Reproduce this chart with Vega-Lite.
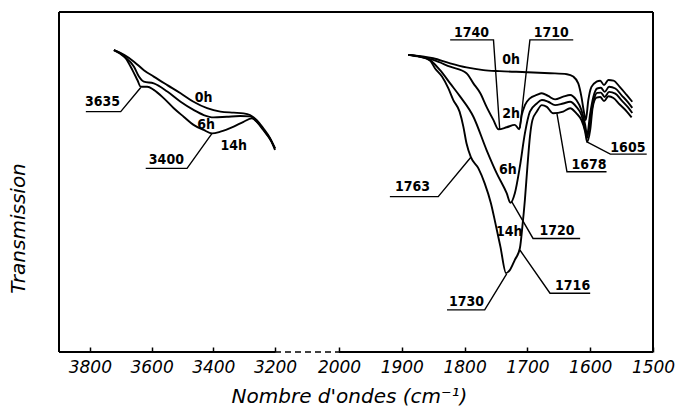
{
  "$schema": "https://vega.github.io/schema/vega-lite/v6.json",
  "width": 594,
  "height": 340,
  "autosize": {"type": "none"},
  "padding": {"left": 59, "top": 12, "right": 28, "bottom": 60},
  "background": "white",
  "config": {"view": {"stroke": null}},
  "datasets": {
    "curves": [
      {"curve":"L0","wn":3722,"T":88.8},{"curve":"L0","wn":3689,"T":87.4},{"curve":"L0","wn":3657,"T":85.4},{"curve":"L0","wn":3625,"T":82.9},{"curve":"L0","wn":3593,"T":81.0},{"curve":"L0","wn":3549,"T":78.5},{"curve":"L0","wn":3506,"T":76.1},{"curve":"L0","wn":3464,"T":73.6},{"curve":"L0","wn":3420,"T":71.7},{"curve":"L0","wn":3377,"T":70.7},{"curve":"L0","wn":3334,"T":70.4},{"curve":"L0","wn":3302,"T":70.2},{"curve":"L0","wn":3281,"T":69.7},{"curve":"L0","wn":3259,"T":68.2},{"curve":"L0","wn":3238,"T":65.8},{"curve":"L0","wn":3216,"T":62.9},{"curve":"L0","wn":3200,"T":59.9},
      {"curve":"L6","wn":3722,"T":88.8},{"curve":"L6","wn":3689,"T":86.9},{"curve":"L6","wn":3657,"T":83.9},{"curve":"L6","wn":3641,"T":81.0},{"curve":"L6","wn":3625,"T":79.5},{"curve":"L6","wn":3593,"T":79.0},{"curve":"L6","wn":3549,"T":76.6},{"curve":"L6","wn":3506,"T":73.6},{"curve":"L6","wn":3464,"T":71.2},{"curve":"L6","wn":3431,"T":69.7},{"curve":"L6","wn":3399,"T":69.0},{"curve":"L6","wn":3356,"T":69.2},{"curve":"L6","wn":3313,"T":69.4},{"curve":"L6","wn":3281,"T":69.3},{"curve":"L6","wn":3259,"T":67.7},{"curve":"L6","wn":3238,"T":65.3},{"curve":"L6","wn":3216,"T":62.6},{"curve":"L6","wn":3200,"T":59.9},
      {"curve":"L14","wn":3722,"T":88.8},{"curve":"L14","wn":3684,"T":86.4},{"curve":"L14","wn":3662,"T":82.9},{"curve":"L14","wn":3646,"T":80.0},{"curve":"L14","wn":3635,"T":78.0},{"curve":"L14","wn":3614,"T":78.0},{"curve":"L14","wn":3593,"T":77.1},{"curve":"L14","wn":3560,"T":74.6},{"curve":"L14","wn":3528,"T":71.7},{"curve":"L14","wn":3496,"T":69.2},{"curve":"L14","wn":3464,"T":66.8},{"curve":"L14","wn":3431,"T":65.3},{"curve":"L14","wn":3404,"T":64.3},{"curve":"L14","wn":3377,"T":64.8},{"curve":"L14","wn":3334,"T":66.3},{"curve":"L14","wn":3302,"T":67.7},{"curve":"L14","wn":3275,"T":68.7},{"curve":"L14","wn":3254,"T":67.3},{"curve":"L14","wn":3232,"T":64.8},{"curve":"L14","wn":3211,"T":61.9},{"curve":"L14","wn":3200,"T":59.4},
      {"curve":"R0","wn":1890,"T":87.4},{"curve":"R0","wn":1850,"T":86.4},{"curve":"R0","wn":1823,"T":84.9},{"curve":"R0","wn":1797,"T":83.7},{"curve":"R0","wn":1770,"T":82.9},{"curve":"R0","wn":1744,"T":82.6},{"curve":"R0","wn":1701,"T":82.3},{"curve":"R0","wn":1664,"T":82.0},{"curve":"R0","wn":1637,"T":81.7},{"curve":"R0","wn":1627,"T":81.0},{"curve":"R0","wn":1619,"T":79.0},{"curve":"R0","wn":1614,"T":75.1},{"curve":"R0","wn":1610,"T":70.6},{"curve":"R0","wn":1607,"T":68.2},{"curve":"R0","wn":1603,"T":74.1},{"curve":"R0","wn":1598,"T":78.0},{"curve":"R0","wn":1590,"T":79.5},{"curve":"R0","wn":1584,"T":79.8},{"curve":"R0","wn":1578,"T":78.5},{"curve":"R0","wn":1571,"T":80.0},{"curve":"R0","wn":1563,"T":79.8},{"curve":"R0","wn":1553,"T":78.0},{"curve":"R0","wn":1542,"T":75.6},{"curve":"R0","wn":1533,"T":73.6},
      {"curve":"R2","wn":1890,"T":87.4},{"curve":"R2","wn":1871,"T":86.8},{"curve":"R2","wn":1850,"T":85.9},{"curve":"R2","wn":1823,"T":83.9},{"curve":"R2","wn":1797,"T":82.0},{"curve":"R2","wn":1786,"T":79.0},{"curve":"R2","wn":1775,"T":76.1},{"curve":"R2","wn":1765,"T":72.1},{"curve":"R2","wn":1754,"T":68.2},{"curve":"R2","wn":1746,"T":65.5},{"curve":"R2","wn":1733,"T":66.1},{"curve":"R2","wn":1720,"T":66.8},{"curve":"R2","wn":1713,"T":65.5},{"curve":"R2","wn":1709,"T":69.7},{"curve":"R2","wn":1704,"T":72.6},{"curve":"R2","wn":1696,"T":74.6},{"curve":"R2","wn":1685,"T":75.6},{"curve":"R2","wn":1677,"T":76.1},{"curve":"R2","wn":1667,"T":75.3},{"curve":"R2","wn":1656,"T":74.3},{"curve":"R2","wn":1643,"T":75.1},{"curve":"R2","wn":1632,"T":75.6},{"curve":"R2","wn":1622,"T":74.1},{"curve":"R2","wn":1614,"T":71.2},{"curve":"R2","wn":1608,"T":66.8},{"curve":"R2","wn":1605,"T":63.8},{"curve":"R2","wn":1600,"T":70.2},{"curve":"R2","wn":1595,"T":75.0},{"curve":"R2","wn":1589,"T":77.5},{"curve":"R2","wn":1583,"T":77.7},{"curve":"R2","wn":1577,"T":76.5},{"curve":"R2","wn":1570,"T":78.0},{"curve":"R2","wn":1560,"T":77.5},{"curve":"R2","wn":1550,"T":75.5},{"curve":"R2","wn":1540,"T":73.5},{"curve":"R2","wn":1533,"T":71.8},
      {"curve":"R6","wn":1890,"T":87.4},{"curve":"R6","wn":1860,"T":86.4},{"curve":"R6","wn":1839,"T":82.9},{"curve":"R6","wn":1823,"T":79.0},{"curve":"R6","wn":1807,"T":75.1},{"curve":"R6","wn":1786,"T":69.2},{"curve":"R6","wn":1765,"T":59.4},{"curve":"R6","wn":1749,"T":52.6},{"curve":"R6","wn":1733,"T":46.7},{"curve":"R6","wn":1727,"T":43.9},{"curve":"R6","wn":1720,"T":46.7},{"curve":"R6","wn":1712,"T":54.5},{"curve":"R6","wn":1704,"T":64.3},{"curve":"R6","wn":1696,"T":70.7},{"curve":"R6","wn":1685,"T":73.1},{"curve":"R6","wn":1677,"T":74.1},{"curve":"R6","wn":1667,"T":73.6},{"curve":"R6","wn":1656,"T":72.6},{"curve":"R6","wn":1643,"T":73.1},{"curve":"R6","wn":1632,"T":73.6},{"curve":"R6","wn":1622,"T":72.1},{"curve":"R6","wn":1614,"T":69.7},{"curve":"R6","wn":1608,"T":65.3},{"curve":"R6","wn":1605,"T":62.9},{"curve":"R6","wn":1600,"T":68.2},{"curve":"R6","wn":1595,"T":73.5},{"curve":"R6","wn":1589,"T":76.2},{"curve":"R6","wn":1583,"T":76.3},{"curve":"R6","wn":1577,"T":75.0},{"curve":"R6","wn":1570,"T":76.5},{"curve":"R6","wn":1560,"T":76.0},{"curve":"R6","wn":1550,"T":74.0},{"curve":"R6","wn":1540,"T":72.0},{"curve":"R6","wn":1533,"T":70.3},
      {"curve":"R14","wn":1890,"T":87.4},{"curve":"R14","wn":1871,"T":86.9},{"curve":"R14","wn":1855,"T":85.7},{"curve":"R14","wn":1847,"T":83.4},{"curve":"R14","wn":1836,"T":81.0},{"curve":"R14","wn":1826,"T":77.6},{"curve":"R14","wn":1818,"T":74.1},{"curve":"R14","wn":1808,"T":70.7},{"curve":"R14","wn":1802,"T":66.3},{"curve":"R14","wn":1797,"T":61.4},{"curve":"R14","wn":1790,"T":57.3},{"curve":"R14","wn":1778,"T":54.0},{"curve":"R14","wn":1768,"T":49.6},{"curve":"R14","wn":1758,"T":43.7},{"curve":"R14","wn":1751,"T":37.9},{"curve":"R14","wn":1743,"T":31.0},{"curve":"R14","wn":1734,"T":23.2},{"curve":"R14","wn":1728,"T":24.1},{"curve":"R14","wn":1720,"T":27.1},{"curve":"R14","wn":1712,"T":30.5},{"curve":"R14","wn":1708,"T":36.9},{"curve":"R14","wn":1704,"T":44.7},{"curve":"R14","wn":1700,"T":54.5},{"curve":"R14","wn":1696,"T":63.3},{"curve":"R14","wn":1692,"T":68.2},{"curve":"R14","wn":1685,"T":70.7},{"curve":"R14","wn":1677,"T":72.6},{"curve":"R14","wn":1669,"T":72.1},{"curve":"R14","wn":1659,"T":70.2},{"curve":"R14","wn":1643,"T":70.7},{"curve":"R14","wn":1632,"T":71.7},{"curve":"R14","wn":1622,"T":70.2},{"curve":"R14","wn":1614,"T":68.2},{"curve":"R14","wn":1608,"T":64.8},{"curve":"R14","wn":1605,"T":61.8},{"curve":"R14","wn":1600,"T":65.3},{"curve":"R14","wn":1596,"T":72.0},{"curve":"R14","wn":1590,"T":74.8},{"curve":"R14","wn":1584,"T":75.0},{"curve":"R14","wn":1578,"T":73.8},{"curve":"R14","wn":1571,"T":75.2},{"curve":"R14","wn":1563,"T":74.7},{"curve":"R14","wn":1553,"T":72.8},{"curve":"R14","wn":1542,"T":70.8},{"curve":"R14","wn":1534,"T":69.0}
    ],
    "leaders": [
      {"id":"3635","k":1,"wn":3813,"T":70.7},{"id":"3635","k":2,"wn":3700,"T":70.7},{"id":"3635","k":3,"wn":3635,"T":77.8},
      {"id":"3400","k":1,"wn":3619,"T":54.0},{"id":"3400","k":2,"wn":3485,"T":54.0},{"id":"3400","k":3,"wn":3404,"T":64.3},
      {"id":"1740","k":1,"wn":1823,"T":91.8},{"id":"1740","k":2,"wn":1754,"T":91.8},{"id":"1740","k":3,"wn":1744,"T":65.3},
      {"id":"1710","k":1,"wn":1627,"T":91.8},{"id":"1710","k":2,"wn":1696,"T":91.8},{"id":"1710","k":3,"wn":1712,"T":65.8},
      {"id":"1605","k":1,"wn":1510,"T":58.2},{"id":"1605","k":2,"wn":1568,"T":58.2},{"id":"1605","k":3,"wn":1606,"T":61.9},
      {"id":"1678","k":1,"wn":1574,"T":53.0},{"id":"1678","k":2,"wn":1637,"T":53.0},{"id":"1678","k":3,"wn":1653,"T":70.2},
      {"id":"1763","k":1,"wn":1919,"T":45.7},{"id":"1763","k":2,"wn":1842,"T":45.7},{"id":"1763","k":3,"wn":1790,"T":57.3},
      {"id":"1720","k":1,"wn":1616,"T":33.4},{"id":"1720","k":2,"wn":1691,"T":33.4},{"id":"1720","k":3,"wn":1725,"T":44.2},
      {"id":"1716","k":1,"wn":1600,"T":17.3},{"id":"1716","k":2,"wn":1664,"T":17.3},{"id":"1716","k":3,"wn":1712,"T":30.0},
      {"id":"1730","k":1,"wn":1828,"T":12.4},{"id":"1730","k":2,"wn":1768,"T":12.4},{"id":"1730","k":3,"wn":1733,"T":23.0}
    ],
    "labels": [
      {"txt":"3635","wn":3759,"T":73.6},
      {"txt":"3400","wn":3552,"T":56.5},
      {"txt":"0h","wn":3431,"T":74.7},
      {"txt":"14h","wn":3334,"T":60.6},
      {"txt":"6h","wn":3423,"T":66.8},
      {"txt":"1740","wn":1789,"T":93.8},
      {"txt":"1710","wn":1662,"T":93.8},
      {"txt":"0h","wn":1726,"T":85.9},
      {"txt":"2h","wn":1726,"T":70.0},
      {"txt":"6h","wn":1731,"T":53.5},
      {"txt":"1605","wn":1540,"T":60.0},
      {"txt":"1678","wn":1602,"T":54.9},
      {"txt":"1763","wn":1883,"T":48.4},
      {"txt":"1720","wn":1653,"T":35.6},
      {"txt":"14h","wn":1729,"T":35.4},
      {"txt":"1716","wn":1628,"T":19.4},
      {"txt":"1730","wn":1797,"T":14.6}
    ],
    "frame": [
      {"wn":3900,"wn2":1500,"T":100,"T2":100},
      {"wn":3900,"wn2":3900,"T":0,"T2":100},
      {"wn":1500,"wn2":1500,"T":0,"T2":100},
      {"wn":3900,"wn2":3200,"T":0,"T2":0},
      {"wn":2000,"wn2":1500,"T":0,"T2":0}
    ],
    "gap": [
      {"wn":3200,"wn2":2000,"T":0,"T2":0}
    ]
  },
  "encoding": {
    "x": {
      "field": "wn", "type": "quantitative",
      "scale": {"domain": [3900, 3200, 2000, 1500], "range": [0, 216, 280, 594], "nice": false, "zero": false},
      "axis": {
        "values": [3800, 3600, 3400, 3200, 2000, 1900, 1800, 1700, 1600, 1500],
        "format": "d",
        "title": "Nombre d'ondes (cm⁻¹)",
        "domain": false, "grid": false,
        "ticks": true, "tickSize": -5, "tickColor": "black", "tickWidth": 1.5,
        "labelPadding": 12, "labelFont": "DejaVu Sans", "labelFontStyle": "italic", "labelFontSize": 17,
        "labelColor": "black", "labelFlush": false, "labelOverlap": false, "labelBound": false, "labelDx": 2,
        "titleFont": "DejaVu Sans", "titleFontStyle": "italic", "titleFontWeight": "normal", "titleFontSize": 20,
        "titleColor": "black", "titleX": 290, "titleY": 50, "titleBaseline": "alphabetic", "titleAlign": "center"
      }
    },
    "y": {
      "field": "T", "type": "quantitative",
      "scale": {"domain": [0, 100], "nice": false, "zero": false},
      "axis": {
        "title": "Transmission", "domain": false, "ticks": false, "labels": false, "grid": false,
        "titleFont": "DejaVu Sans", "titleFontStyle": "italic", "titleFontWeight": "normal", "titleFontSize": 20,
        "titleColor": "black", "titleX": -41, "titleY": 216, "titleAngle": -90, "titleBaseline": "middle", "titleAlign": "center"
      }
    }
  },
  "layer": [
    {
      "data": {"name": "frame"},
      "mark": {"type": "rule", "color": "black", "strokeWidth": 2},
      "encoding": {"x2": {"field": "wn2"}, "y2": {"field": "T2"}}
    },
    {
      "data": {"name": "gap"},
      "mark": {"type": "rule", "color": "black", "strokeWidth": 1.5, "strokeDash": [6, 4]},
      "encoding": {"x2": {"field": "wn2"}, "y2": {"field": "T2"}}
    },
    {
      "data": {"name": "curves"},
      "mark": {"type": "line", "color": "black", "strokeWidth": 1.9, "interpolate": "monotone"},
      "encoding": {"detail": {"field": "curve", "type": "nominal"}}
    },
    {
      "data": {"name": "leaders"},
      "mark": {"type": "line", "color": "black", "strokeWidth": 1.4},
      "encoding": {"detail": {"field": "id", "type": "nominal"}, "order": {"field": "k", "type": "quantitative"}}
    },
    {
      "data": {"name": "labels"},
      "mark": {"type": "text", "color": "black", "font": "DejaVu Sans Condensed, Liberation Sans, sans-serif", "fontWeight": "bold", "fontSize": 14, "align": "center", "baseline": "middle"},
      "encoding": {"text": {"field": "txt", "type": "nominal"}}
    }
  ]
}
